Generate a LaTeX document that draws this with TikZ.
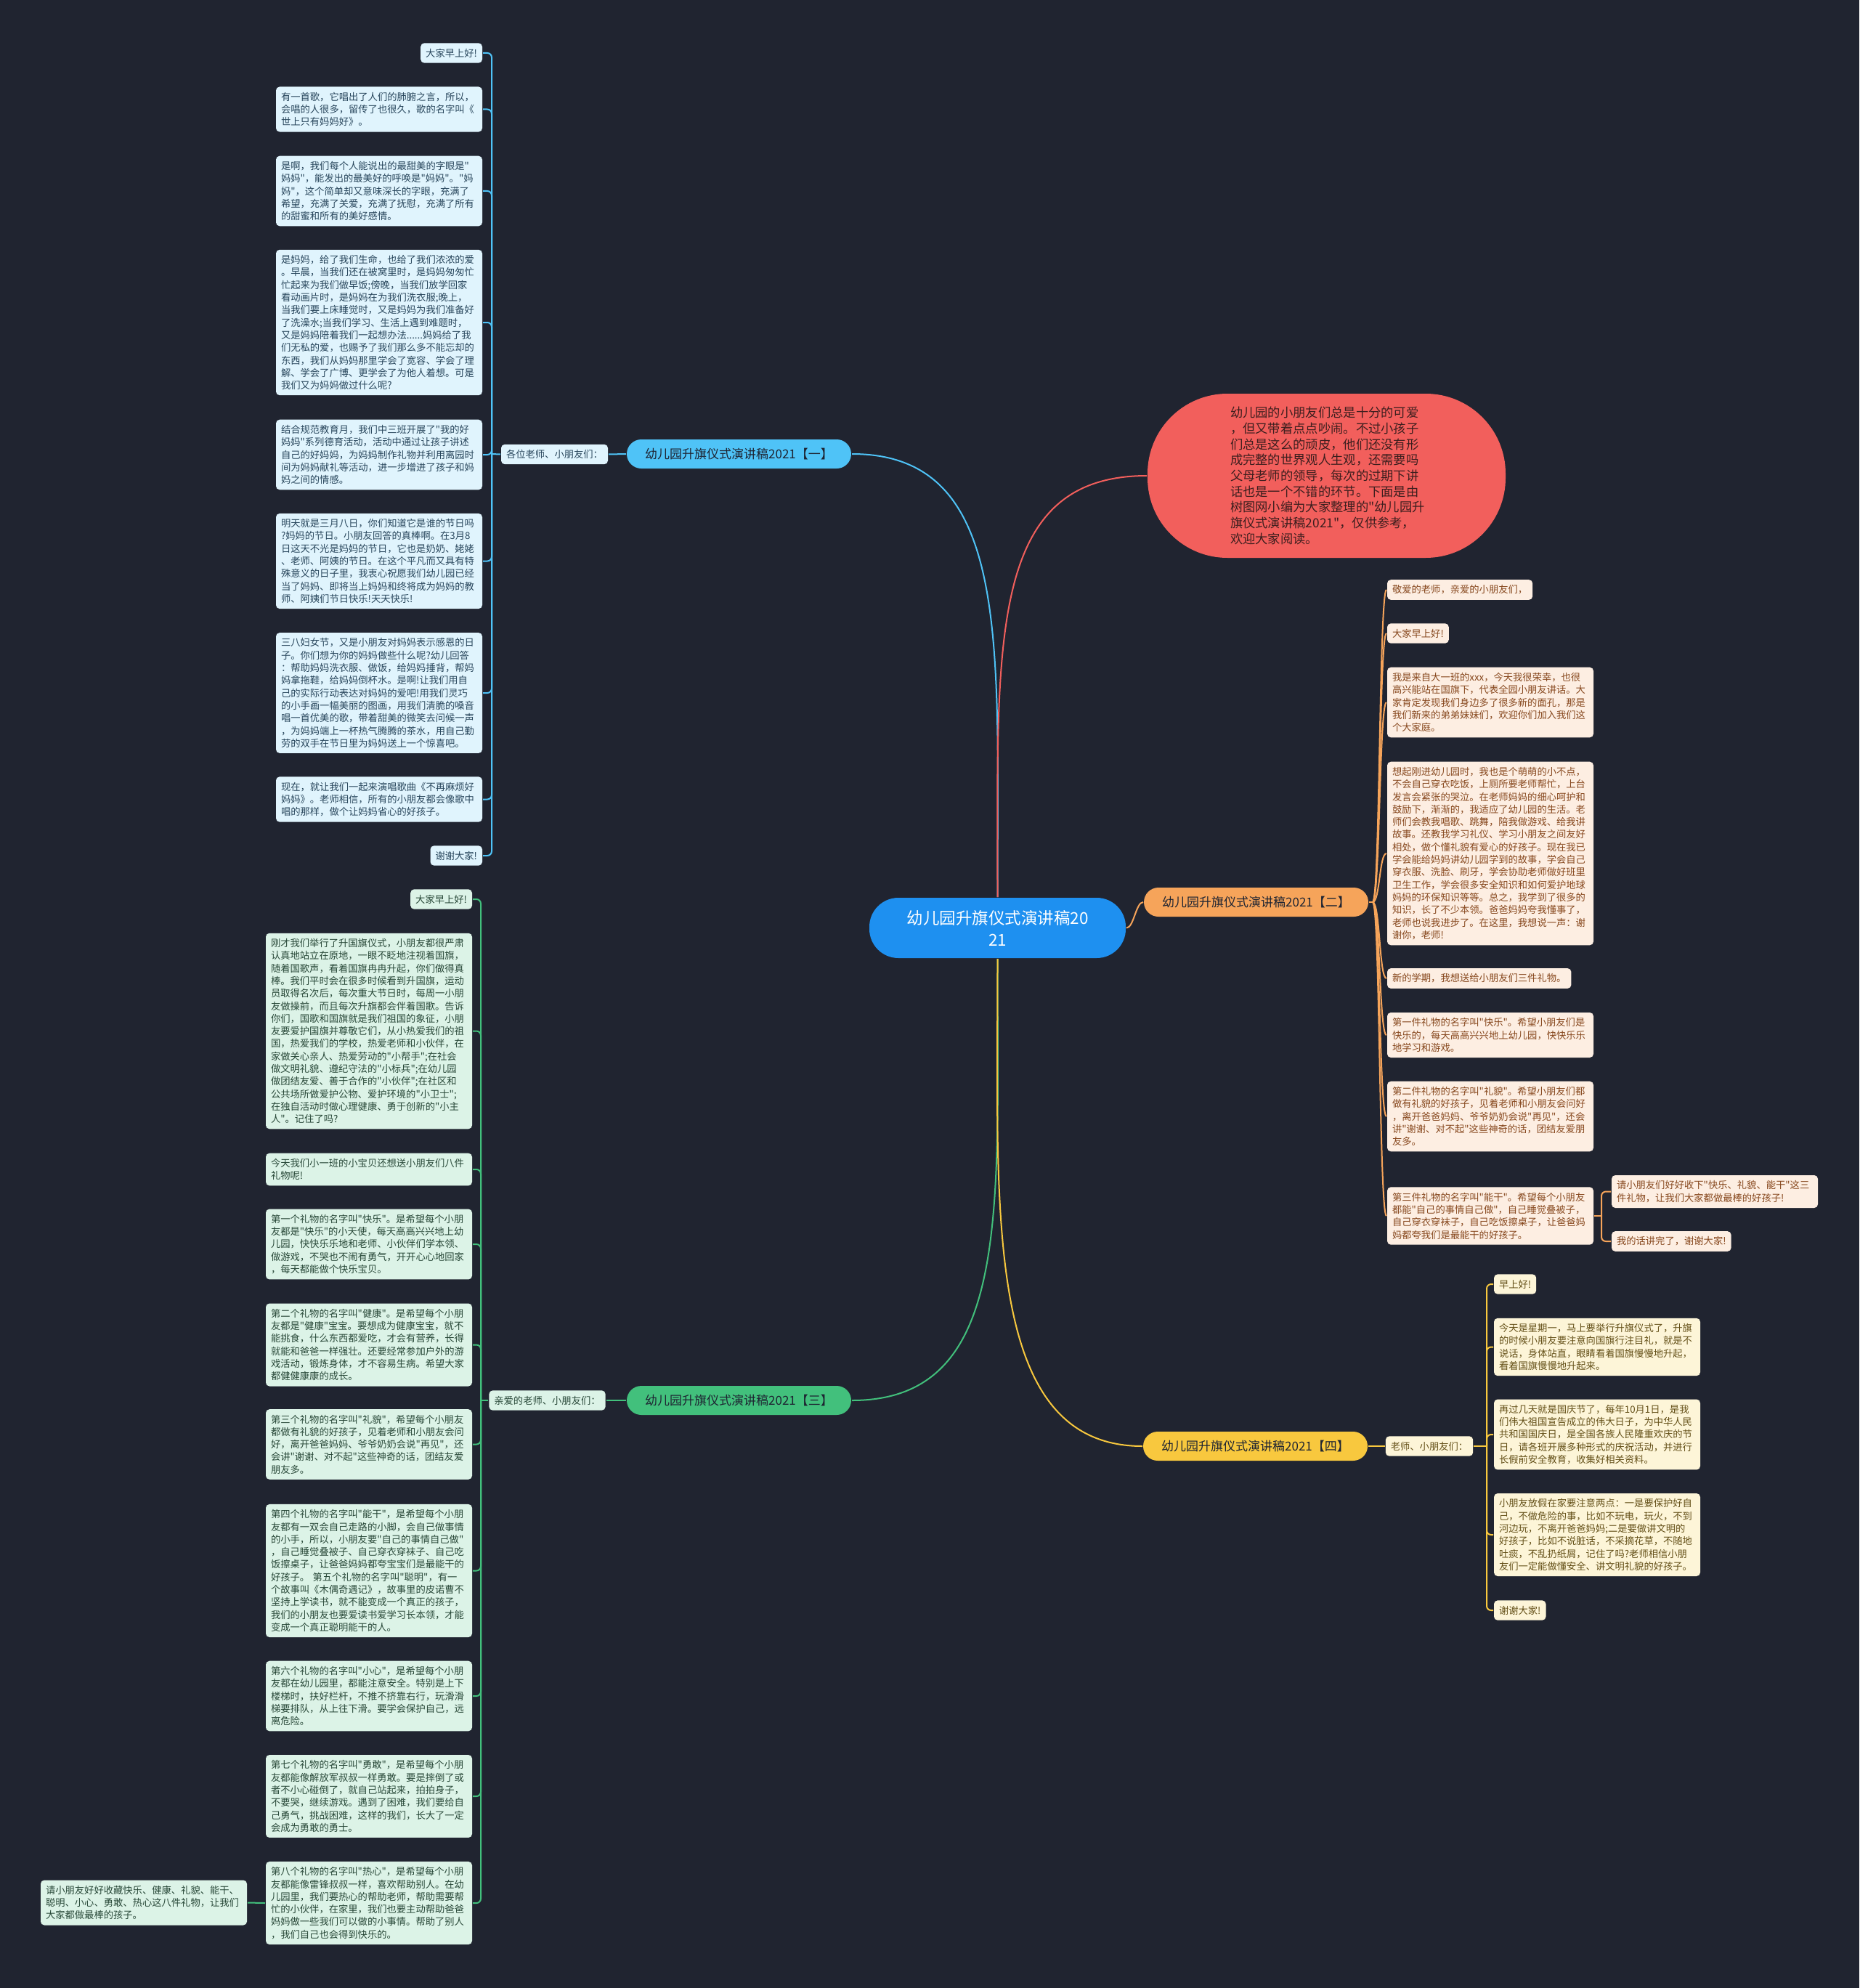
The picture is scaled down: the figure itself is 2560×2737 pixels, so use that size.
\documentclass[tikz,border=0pt]{standalone}
\usepackage{fontspec}
\setmainfont{Noto Sans CJK SC}[Ligatures=TeXOff]

\definecolor{bg}{RGB}{32,36,48}
\definecolor{rootblue}{RGB}{30,144,240}
\definecolor{introred}{RGB}{242,95,92}
\definecolor{introtext}{RGB}{60,30,30}
\definecolor{pilltext}{RGB}{30,36,50}
% branch colours: line, box fill, box text
\definecolor{lineA}{RGB}{79,195,247}
\definecolor{fillA}{RGB}{224,244,253}
\definecolor{textA}{RGB}{40,70,92}
\definecolor{lineB}{RGB}{246,164,90}
\definecolor{fillB}{RGB}{253,238,226}
\definecolor{textB}{RGB}{135,72,30}
\definecolor{lineC}{RGB}{66,192,124}
\definecolor{fillC}{RGB}{220,243,231}
\definecolor{textC}{RGB}{40,72,56}
\definecolor{lineD}{RGB}{248,200,62}
\definecolor{fillD}{RGB}{253,245,216}
\definecolor{textD}{RGB}{100,80,24}

\newcommand{\leaffont}{\fontsize{13.3}{17.3}\selectfont}
\newcommand{\pillfont}{\fontsize{17}{20}\selectfont}
\newcommand{\rootfont}{\fontsize{22.5}{30}\selectfont}
\newcommand{\introfont}{\fontsize{17.3}{21.7}\selectfont}

\begin{document}
\begin{tikzpicture}[x=1pt, y=-1pt, line width=2pt,
    box/.style={rounded corners=5pt, inner xsep=7pt, inner ysep=7.5pt, align=left, font=\leaffont},
    wide/.style={text width=270pt},
    bluebox/.style={box, fill=fillA, text=textA},
    orangebox/.style={box, fill=fillB, text=textB},
    greenbox/.style={box, fill=fillC, text=textC},
    yellowbox/.style={box, fill=fillD, text=textD},
    pill/.style={rounded corners=20pt, minimum width=309pt, minimum height=40pt, inner sep=0pt, font=\pillfont, text=pilltext},
    elbow/.style={rounded corners=6pt}]

    \fill[bg] (0,0) rectangle (2560,2737);
    \useasboundingbox (0,0) rectangle (2560,2737);

    % centre and intro
    \node[fill=rootblue, text=white, rounded corners=40pt, minimum width=353pt, minimum height=83pt,
          align=center, font=\rootfont, inner sep=0pt] (root) at (1373.5,1277.5) {幼儿园升旗仪式演讲稿20\\21};
    \node[fill=introred, text=introtext, rounded corners=110pt, minimum width=493pt, minimum height=226pt,
          text width=265pt, align=left, font=\introfont, inner sep=0pt] (intro) at (1826.5,655)
        {幼儿园的小朋友们总是十分的可爱\\，但又带着点点吵闹。不过小孩子\\们总是这么的顽皮，他们还没有形\\成完整的世界观人生观，还需要吗\\父母老师的领导，每次的过期下讲\\话也是一个不错的环节。下面是由\\树图网小编为大家整理的"幼儿园升\\旗仪式演讲稿2021"，仅供参考，\\欢迎大家阅读。};

    % branch one
    \node[pill, fill=lineA] (b1) at (1017.5,625) {幼儿园升旗仪式演讲稿2021【一】};
    \node[bluebox] (g1) at (763.5,625.5) {各位老师、小朋友们：};
    \coordinate (s1) at (677,625);
    \node[bluebox, anchor=east] (a1) at (665,73) {大家早上好!};
    \node[bluebox, wide, anchor=east] (a2) at (665,150.5) {有一首歌，它唱出了人们的肺腑之言，所以，\\会唱的人很多，留传了也很久，歌的名字叫《\\世上只有妈妈好》。};
    \node[bluebox, wide, anchor=east] (a3) at (665,263) {是啊，我们每个人能说出的最甜美的字眼是"\\妈妈"，能发出的最美好的呼唤是"妈妈"。"妈\\妈"，这个简单却又意味深长的字眼，充满了\\希望，充满了关爱，充满了抚慰，充满了所有\\的甜蜜和所有的美好感情。};
    \node[bluebox, wide, anchor=east] (a4) at (665,444) {是妈妈，给了我们生命，也给了我们浓浓的爱\\。早晨，当我们还在被窝里时，是妈妈匆匆忙\\忙起来为我们做早饭;傍晚，当我们放学回家\\看动画片时，是妈妈在为我们洗衣服;晚上，\\当我们要上床睡觉时，又是妈妈为我们准备好\\了洗澡水;当我们学习、生活上遇到难题时，\\又是妈妈陪着我们一起想办法......妈妈给了我\\们无私的爱，也赐予了我们那么多不能忘却的\\东西，我们从妈妈那里学会了宽容、学会了理\\解、学会了广博、更学会了为他人着想。可是\\我们又为妈妈做过什么呢?};
    \node[bluebox, wide, anchor=east] (a5) at (665,626) {结合规范教育月，我们中三班开展了"我的好\\妈妈"系列德育活动，活动中通过让孩子讲述\\自己的好妈妈，为妈妈制作礼物并利用离园时\\间为妈妈献礼等活动，进一步增进了孩子和妈\\妈之间的情感。};
    \node[bluebox, wide, anchor=east] (a6) at (665,772.5) {明天就是三月八日，你们知道它是谁的节日吗\\?妈妈的节日。小朋友回答的真棒啊。在3月8\\日这天不光是妈妈的节日，它也是奶奶、姥姥\\、老师、阿姨的节日。在这个平凡而又具有特\\殊意义的日子里，我衷心祝愿我们幼儿园已经\\当了妈妈、即将当上妈妈和终将成为妈妈的教\\师、阿姨们节日快乐!天天快乐!};
    \node[bluebox, wide, anchor=east] (a7) at (665,954) {三八妇女节，又是小朋友对妈妈表示感恩的日\\子。你们想为你的妈妈做些什么呢?幼儿回答\\：帮助妈妈洗衣服、做饭，给妈妈捶背，帮妈\\妈拿拖鞋，给妈妈倒杯水。是啊!让我们用自\\己的实际行动表达对妈妈的爱吧!用我们灵巧\\的小手画一幅美丽的图画，用我们清脆的嗓音\\唱一首优美的歌，带着甜美的微笑去问候一声\\，为妈妈端上一杯热气腾腾的茶水，用自己勤\\劳的双手在节日里为妈妈送上一个惊喜吧。};
    \node[bluebox, wide, anchor=east] (a8) at (665,1100.5) {现在，就让我们一起来演唱歌曲《不再麻烦好\\妈妈》。老师相信，所有的小朋友都会像歌中\\唱的那样，做个让妈妈省心的好孩子。};
    \node[bluebox, anchor=east] (a9) at (665,1178) {谢谢大家!};

    % branch two
    \node[pill, fill=lineB] (b2) at (1729.5,1242) {幼儿园升旗仪式演讲稿2021【二】};
    \coordinate (s2) at (1890,1242);
    \node[orangebox, anchor=west] (r1) at (1909,812) {敬爱的老师，亲爱的小朋友们，};
    \node[orangebox, anchor=west] (r2) at (1909,872) {大家早上好!};
    \node[orangebox, wide, anchor=west] (r3) at (1909,967) {我是来自大一班的xxx，今天我很荣幸，也很\\高兴能站在国旗下，代表全园小朋友讲话。大\\家肯定发现我们身边多了很多新的面孔，那是\\我们新来的弟弟妹妹们，欢迎你们加入我们这\\个大家庭。};
    \node[orangebox, wide, anchor=west] (r4) at (1909,1175) {想起刚进幼儿园时，我也是个萌萌的小不点，\\不会自己穿衣吃饭，上厕所要老师帮忙，上台\\发言会紧张的哭泣。在老师妈妈的细心呵护和\\鼓励下，渐渐的，我适应了幼儿园的生活。老\\师们会教我唱歌、跳舞，陪我做游戏、给我讲\\故事。还教我学习礼仪、学习小朋友之间友好\\相处，做个懂礼貌有爱心的好孩子。现在我已\\学会能给妈妈讲幼儿园学到的故事，学会自己\\穿衣服、洗脸、刷牙，学会协助老师做好班里\\卫生工作，学会很多安全知识和如何爱护地球\\妈妈的环保知识等等。总之，我学到了很多的\\知识，长了不少本领。爸爸妈妈夸我懂事了，\\老师也说我进步了。在这里，我想说一声：谢\\谢你，老师!};
    \node[orangebox, anchor=west] (r5) at (1909,1347) {新的学期，我想送给小朋友们三件礼物。};
    \node[orangebox, wide, anchor=west] (r6) at (1909,1425) {第一件礼物的名字叫"快乐"。希望小朋友们是\\快乐的，每天高高兴兴地上幼儿园，快快乐乐\\地学习和游戏。};
    \node[orangebox, wide, anchor=west] (r7) at (1909,1537) {第二件礼物的名字叫"礼貌"。希望小朋友们都\\做有礼貌的好孩子，见着老师和小朋友会问好\\，离开爸爸妈妈、爷爷奶奶会说"再见"，还会\\讲"谢谢、对不起"这些神奇的话，团结友爱朋\\友多。};
    \node[orangebox, wide, anchor=west] (r8) at (1909,1674) {第三件礼物的名字叫"能干"。希望每个小朋友\\都能"自己的事情自己做"，自己睡觉叠被子，\\自己穿衣穿袜子，自己吃饭擦桌子，让爸爸妈\\妈都夸我们是最能干的好孩子。};
    \coordinate (s8) at (2205,1674);
    \node[orangebox, wide, anchor=west] (r9) at (2218,1640.5) {请小朋友们好好收下"快乐、礼貌、能干"这三\\件礼物，让我们大家都做最棒的好孩子!};
    \node[orangebox, anchor=west] (r10) at (2218,1709) {我的话讲完了，谢谢大家!};

    % branch three
    \node[pill, fill=lineC] (b3) at (1017.5,1928) {幼儿园升旗仪式演讲稿2021【三】};
    \node[greenbox] (g3) at (753.5,1928) {亲爱的老师、小朋友们：};
    \coordinate (s3) at (662,1928);
    \node[greenbox, anchor=east] (m1) at (651,1238) {大家早上好!};
    \node[greenbox, wide, anchor=east] (m2) at (651,1419.5) {刚才我们举行了升国旗仪式，小朋友都很严肃\\认真地站立在原地，一眼不眨地注视着国旗，\\随着国歌声，看着国旗冉冉升起，你们做得真\\棒。我们平时会在很多时候看到升国旗，运动\\员取得名次后，每次重大节日时，每周一小朋\\友做操前，而且每次升旗都会伴着国歌。告诉\\你们，国歌和国旗就是我们祖国的象征，小朋\\友要爱护国旗并尊敬它们，从小热爱我们的祖\\国，热爱我们的学校，热爱老师和小伙伴，在\\家做关心亲人、热爱劳动的"小帮手";在社会\\做文明礼貌、遵纪守法的"小标兵";在幼儿园\\做团结友爱、善于合作的"小伙伴";在社区和\\公共场所做爱护公物、爱护环境的"小卫士";\\在独自活动时做心理健康、勇于创新的"小主\\人"。记住了吗?};
    \node[greenbox, wide, anchor=east] (m3) at (651,1610) {今天我们小一班的小宝贝还想送小朋友们八件\\礼物呢!};
    \node[greenbox, wide, anchor=east] (m4) at (651,1713) {第一个礼物的名字叫"快乐"。是希望每个小朋\\友都是"快乐"的小天使，每天高高兴兴地上幼\\儿园，快快乐乐地和老师、小伙伴们学本领、\\做游戏，不哭也不闹有勇气，开开心心地回家\\，每天都能做个快乐宝贝。};
    \node[greenbox, wide, anchor=east] (m5) at (651,1851.5) {第二个礼物的名字叫"健康"。是希望每个小朋\\友都是"健康"宝宝。要想成为健康宝宝，就不\\能挑食，什么东西都爱吃，才会有营养，长得\\就能和爸爸一样强壮。还要经常参加户外的游\\戏活动，锻炼身体，才不容易生病。希望大家\\都健健康康的成长。};
    \node[greenbox, wide, anchor=east] (m6) at (651,1988.5) {第三个礼物的名字叫"礼貌"，希望每个小朋友\\都做有礼貌的好孩子，见着老师和小朋友会问\\好，离开爸爸妈妈、爷爷奶奶会说"再见"，还\\会讲"谢谢、对不起"这些神奇的话，团结友爱\\朋友多。};
    \node[greenbox, wide, anchor=east] (m7) at (651,2162.5) {第四个礼物的名字叫"能干"，是希望每个小朋\\友都有一双会自己走路的小脚，会自己做事情\\的小手，所以，小朋友要"自己的事情自己做"\\，自己睡觉叠被子、自己穿衣穿袜子、自己吃\\饭擦桌子，让爸爸妈妈都夸宝宝们是最能干的\\好孩子。~第五个礼物的名字叫"聪明"，有一\\个故事叫《木偶奇遇记》，故事里的皮诺曹不\\坚持上学读书，就不能变成一个真正的孩子，\\我们的小朋友也要爱读书爱学习长本领，才能\\变成一个真正聪明能干的人。};
    \node[greenbox, wide, anchor=east] (m8) at (651,2335) {第六个礼物的名字叫"小心"，是希望每个小朋\\友都在幼儿园里，都能注意安全。特别是上下\\楼梯时，扶好栏杆，不推不挤靠右行，玩滑滑\\梯要排队，从上往下滑。要学会保护自己，远\\离危险。};
    \node[greenbox, wide, anchor=east] (m9) at (651,2473) {第七个礼物的名字叫"勇敢"，是希望每个小朋\\友都能像解放军叔叔一样勇敢。要是摔倒了或\\者不小心碰倒了，就自己站起来，拍拍身子，\\不要哭，继续游戏。遇到了困难，我们要给自\\己勇气，挑战困难，这样的我们，长大了一定\\会成为勇敢的勇士。};
    \node[greenbox, wide, anchor=east] (m10) at (651,2620) {第八个礼物的名字叫"热心"，是希望每个小朋\\友都能像雷锋叔叔一样，喜欢帮助别人。在幼\\儿园里，我们要热心的帮助老师，帮助需要帮\\忙的小伙伴，在家里，我们也要主动帮助爸爸\\妈妈做一些我们可以做的小事情。帮助了别人\\，我们自己也会得到快乐的。};
    \node[greenbox, wide, anchor=east] (gifts) at (341,2619.5) {请小朋友好好收藏快乐、健康、礼貌、能干、\\聪明、小心、勇敢、热心这八件礼物，让我们\\大家都做最棒的孩子。};

    % branch four
    \node[pill, fill=lineD] (b4) at (1728.5,1991) {幼儿园升旗仪式演讲稿2021【四】};
    \node[yellowbox] (g4) at (1968,1991) {老师、小朋友们：};
    \coordinate (s4) at (2047,1991);
    \node[yellowbox, anchor=west] (y1) at (2056,1768) {早上好!};
    \node[yellowbox, wide, anchor=west] (y2) at (2056,1854.5) {今天是星期一，马上要举行升旗仪式了，升旗\\的时候小朋友要注意向国旗行注目礼，就是不\\说话，身体站直，眼睛看着国旗慢慢地升起，\\看着国旗慢慢地升起来。};
    \node[yellowbox, wide, anchor=west] (y3) at (2056,1975) {再过几天就是国庆节了，每年10月1日，是我\\们伟大祖国宣告成立的伟大日子，为中华人民\\共和国国庆日，是全国各族人民隆重欢庆的节\\日，请各班开展多种形式的庆祝活动，并进行\\长假前安全教育，收集好相关资料。};
    \node[yellowbox, wide, anchor=west] (y4) at (2056,2113) {小朋友放假在家要注意两点：一是要保护好自\\己，不做危险的事，比如不玩电，玩火，不到\\河边玩，不离开爸爸妈妈;二是要做讲文明的\\好孩子，比如不说脏话，不采摘花草，不随地\\吐痰，不乱扔纸屑，记住了吗?老师相信小朋\\友们一定能做懂安全、讲文明礼貌的好孩子。};
    \node[yellowbox, anchor=west] (y5) at (2056,2217) {谢谢大家!};

    % main curves
    \draw[lineA] (root.north) .. controls +(0,-350) and +(220,0) .. (b1.east);
    \draw[introred] (root.north) .. controls +(0,-350) and +(-220,0) .. (intro.west);
    \draw[lineB] (root.east) .. controls +(10,0) and +(-10,0) .. (b2.west);
    \draw[lineC] (root.south) .. controls +(0,350) and +(220,0) .. (b3.east);
    \draw[lineD] (root.south) .. controls +(0,350) and +(-220,0) .. (b4.west);

    % branch one links
    \draw[lineA] (b1.west) -- (g1.east);
    \draw[lineA] (g1.west) -- (s1);
    \foreach \n in {a1,a2,a3,a4,a5,a6,a7,a8,a9}
        \draw[lineA, elbow] (s1) |- (\n.east);

    % branch two links
    \draw[lineB] (b2.east) -- (s2);
    \foreach \n in {r1,r2,r3,r4,r5,r6,r7,r8}
        \draw[lineB] (s2) .. controls +(10,0) and +(-10,0) .. (\n.west);
    \draw[lineB] (r8.east) -- (s8);
    \draw[lineB, elbow] (s8) |- (r9.west);
    \draw[lineB, elbow] (s8) |- (r10.west);

    % branch three links
    \draw[lineC] (b3.west) -- (g3.east);
    \draw[lineC] (g3.west) -- (s3);
    \foreach \n in {m1,m2,m3,m4,m5,m6,m7,m8,m9,m10}
        \draw[lineC, elbow] (s3) |- (\n.east);
    \draw[lineC] (m10.west) -- (gifts.east);

    % branch four links
    \draw[lineD] (b4.east) -- (g4.west);
    \draw[lineD] (g4.east) -- (s4);
    \foreach \n in {y1,y2,y3,y4,y5}
        \draw[lineD, elbow] (s4) |- (\n.west);
\end{tikzpicture}
\end{document}
